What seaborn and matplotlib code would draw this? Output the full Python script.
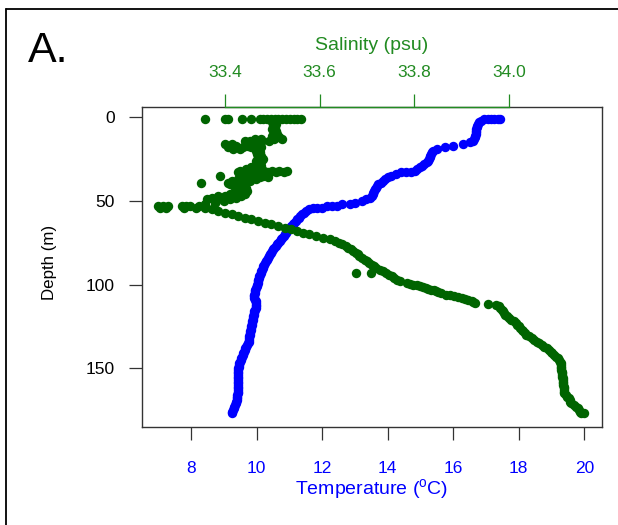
import numpy as np
import pandas as pd
import matplotlib
matplotlib.use("Agg")
import matplotlib.pyplot as plt
import seaborn as sns
from matplotlib.lines import Line2D

# ---------------- data ----------------
# Temperature profile, one reading per metre from 1 m to 177 m
temp_c = [
    16.95, 16.85, 16.78, 16.74, 16.72, 16.71, 16.70, 16.70, 16.69, 16.68,
    16.67, 16.66, 16.64, 16.60, 16.50, 16.30, 16.00, 15.75, 15.50, 15.38,
    15.35, 15.33, 15.30, 15.28, 15.26, 15.24, 15.20, 15.12, 15.05, 14.97,
    14.90, 14.82, 14.70, 14.25, 14.10, 14.00, 13.92, 13.85, 13.78, 13.70,
    13.66, 13.63, 13.60, 13.58, 13.56, 13.54, 13.52, 13.45, 13.35, 13.20,
    13.00, 12.85, 12.45, 12.00, 11.60, 11.50, 11.44, 11.38, 11.33, 11.28,
    11.24, 11.20, 11.15, 11.10, 11.06, 11.02, 10.98, 10.94, 10.90, 10.86,
    10.82, 10.78, 10.74, 10.70, 10.66, 10.62, 10.58, 10.54, 10.50, 10.47,
    10.44, 10.41, 10.38, 10.35, 10.32, 10.29, 10.26, 10.23, 10.20, 10.18,
    10.16, 10.14, 10.12, 10.10, 10.08, 10.06, 10.05, 10.04, 10.03, 10.02,
    10.00, 9.98, 9.96, 9.95, 9.94, 9.93, 9.91, 9.92, 9.95, 9.97,
    9.99, 9.99, 9.98, 9.97, 9.95, 9.93, 9.92, 9.91, 9.90, 9.89,
    9.88, 9.87, 9.86, 9.85, 9.84, 9.83, 9.82, 9.81, 9.80, 9.79,
    9.78, 9.77, 9.76, 9.75, 9.74, 9.71, 9.68, 9.65, 9.63, 9.61,
    9.59, 9.57, 9.55, 9.53, 9.51, 9.49, 9.47, 9.46, 9.45, 9.44,
    9.43, 9.43, 9.43, 9.42, 9.42, 9.42, 9.42, 9.42, 9.42, 9.42,
    9.43, 9.43, 9.43, 9.42, 9.42, 9.41, 9.41, 9.40, 9.40, 9.38,
    9.36, 9.34, 9.32, 9.30, 9.28, 9.26, 9.25,
]
temp_depth = list(range(1, 1 + len(temp_c)))
# extra temperature readings where the profile runs horizontally
temp_extra_depth = [1, 1, 1, 1, 1, 33, 33, 52, 53, 53, 54, 54]
temp_extra_c = [17.05, 17.15, 17.25, 17.35, 17.42, 14.55, 14.40,
                12.60, 12.30, 12.15, 11.85, 11.72]

# Salinity: scattered upper-layer readings (depth m, psu)
sal_upper_depth = (
    [1] * 17
    + [2, 3, 4, 5, 6, 7, 8, 9, 10, 11, 12, 12]
    + [13, 13, 13, 13, 14, 14, 14, 15, 15, 16, 16, 16, 17, 17, 17]
    + [18, 18, 18, 18, 19, 19, 19, 20, 21, 22, 23, 24, 25, 26, 27, 28, 29]
    + [30, 30, 31, 31] + [32] * 7 + [33] * 7
    + [34] * 4 + [35] * 4 + [36] * 4 + [37] * 3 + [38] * 3 + [39] * 3
    + [40, 40, 41, 41, 42, 42, 43, 43, 44, 44, 45, 45, 46, 46]
    + [47, 47, 47, 48, 48, 48, 49, 49, 49, 50, 50, 51, 52]
    + [53] * 7 + [54] * 5
)
sal_upper_psu = (
    [33.357, 33.399, 33.406, 33.435, 33.456, 33.473, 33.481, 33.489, 33.497,
     33.505, 33.513, 33.521, 33.529, 33.537, 33.545, 33.553, 33.561]
    + [33.505, 33.499, 33.507, 33.501, 33.505, 33.499, 33.507, 33.503, 33.509,
       33.499, 33.507, 33.515]
    + [33.503, 33.520, 33.477, 33.463, 33.494, 33.452, 33.442, 33.477, 33.469,
       33.473, 33.414, 33.401, 33.467, 33.448, 33.423]
    + [33.477, 33.439, 33.406, 33.456, 33.469, 33.416, 33.431, 33.465, 33.473,
       33.467, 33.477, 33.469, 33.480, 33.465, 33.476, 33.467, 33.477]
    + [33.471, 33.456, 33.465, 33.444]
    + [33.431, 33.448, 33.465, 33.482, 33.499, 33.515, 33.532]
    + [33.427, 33.442, 33.456, 33.473, 33.490, 33.507, 33.524]
    + [33.431, 33.452, 33.469, 33.486]
    + [33.442, 33.463, 33.480, 33.389]
    + [33.431, 33.452, 33.473, 33.490]
    + [33.427, 33.446, 33.465]
    + [33.414, 33.435, 33.452]
    + [33.349, 33.406, 33.427]
    + [33.410, 33.431, 33.420, 33.439, 33.431, 33.444, 33.439, 33.423, 33.431,
       33.446, 33.439, 33.427, 33.442, 33.410]
    + [33.433, 33.401, 33.385, 33.423, 33.393, 33.372, 33.410, 33.376, 33.363,
       33.397, 33.380, 33.378, 33.357]
    + [33.258, 33.269, 33.279, 33.309, 33.317, 33.326, 33.346]
    + [33.262, 33.275, 33.313, 33.338, 33.357]
)
# Salinity: main profile below the mixed layer, one reading per metre 55-177 m
sal_deep_psu = [
    33.372, 33.386, 33.400, 33.414, 33.428, 33.442, 33.456, 33.470, 33.484, 33.498,
    33.512, 33.527, 33.540, 33.552, 33.565, 33.577, 33.592, 33.607, 33.622, 33.632,
    33.640, 33.648, 33.655, 33.660, 33.666, 33.671, 33.676, 33.680, 33.684, 33.690,
    33.695, 33.700, 33.704, 33.710, 33.715, 33.720, 33.727, 33.733, 33.740, 33.746,
    33.752, 33.758, 33.764, 33.770, 33.784, 33.798, 33.812, 33.825, 33.836, 33.846,
    33.856, 33.867, 33.884, 33.900, 33.914, 33.922, 33.928, 33.972, 33.978, 33.982,
    33.985, 33.988, 33.990, 33.992, 33.995, 34.000, 34.005, 34.010, 34.015, 34.018,
    34.021, 34.024, 34.027, 34.030, 34.033, 34.036, 34.042, 34.048, 34.054, 34.060,
    34.064, 34.070, 34.075, 34.080, 34.085, 34.089, 34.092, 34.096, 34.100, 34.103,
    34.106, 34.108, 34.109, 34.110, 34.110, 34.111, 34.111, 34.112, 34.112, 34.113,
    34.113, 34.114, 34.114, 34.115, 34.115, 34.115, 34.116, 34.116, 34.117, 34.117,
    34.117, 34.120, 34.123, 34.126, 34.128, 34.130, 34.132, 34.137, 34.141, 34.145,
    34.148, 34.150, 34.152,
]
sal_deep_depth = list(range(55, 55 + len(sal_deep_psu)))
# isolated / intermediate salinity readings
sal_extra_depth = [93, 93, 99.5, 100.5, 101.5, 102.5, 103.5, 104.5, 106.5, 107.5,
                   108.5, 110.5, 111.5, 177]
sal_extra_psu = [33.677, 33.709, 33.791, 33.805, 33.818, 33.830, 33.841, 33.851,
                 33.875, 33.892, 33.907, 33.925, 33.955, 34.159]

temp_ticks = [8, 10, 12, 14, 16, 18, 20]
sal_ticks = [33.4, 33.6, 33.8, 34.0]
sal_tick_labels = ["33.4", "33.6", "33.8", "34.0"]
depth_ticks = [0, 50, 100, 150]

# ---------------- tables ----------------
temp_df = pd.DataFrame({
    "depth": temp_depth + temp_extra_depth,
    "temp": temp_c + temp_extra_c,
})
sal_df = pd.DataFrame({
    "depth": sal_upper_depth + sal_deep_depth + sal_extra_depth,
    "sal": sal_upper_psu + sal_deep_psu + sal_extra_psu,
})

# ---------------- style ----------------
sns.set_style("white")
plt.rcParams["font.family"] = ["Liberation Sans", "DejaVu Sans"]
plt.rcParams["mathtext.fontset"] = "custom"
plt.rcParams["mathtext.rm"] = "Liberation Sans"

BLUE = "#0000FF"
DKGREEN = "#006400"
TXTGREEN = "#228B22"
FRAME = "#333333"
MS = 46

W, H = 618, 525
fig = plt.figure(figsize=(W / 100, H / 100), dpi=100)
fig.patch.set_facecolor("white")
ax = fig.add_axes([141.7 / W, 1 - 426.7 / H, 460 / W, 320 / H])

sns.scatterplot(data=temp_df, x="temp", y="depth", ax=ax, color=BLUE,
                s=MS, linewidth=0, legend=False)
ax2 = ax.twiny()
sns.scatterplot(data=sal_df, x="sal", y="depth", ax=ax2, color=DKGREEN,
                s=MS, linewidth=0, legend=False)

ax.set_xlim(6.49, 20.53)
ax.set_ylim(184.9, -6.3)
ax2.set_xlim(33.224, 34.196)

ax.set_xticks(temp_ticks)
ax.set_xticklabels([str(t) for t in temp_ticks])
ax.set_yticks(depth_ticks)
ax.set_yticklabels([str(d) for d in depth_ticks])
ax2.set_xticks(sal_ticks)
ax2.set_xticklabels(sal_tick_labels)

for sp in ax.spines.values():
    sp.set_visible(True)
    sp.set_color(FRAME)
    sp.set_linewidth(1.0)
for name, sp in ax2.spines.items():
    sp.set_visible(name == "top")
ax2.spines["top"].set_bounds(33.4, 34.0)
ax2.spines["top"].set_color(TXTGREEN)
ax2.spines["top"].set_linewidth(1.0)

ax.tick_params(axis="x", bottom=True, top=False, direction="out", length=9.4,
               width=0.9, color=FRAME, labelcolor=BLUE, labelsize=12.5, pad=15)
ax.tick_params(axis="y", left=True, right=False, direction="out", length=9.4,
               width=0.9, color=FRAME, labelcolor="black", labelsize=12.5, pad=9.9)
ax2.tick_params(axis="x", top=True, bottom=False, labeltop=True, labelbottom=False,
                direction="out", length=9.4, width=0.9, color=TXTGREEN,
                labelcolor=TXTGREEN, labelsize=12.5, pad=9.8)
ax.grid(False)
ax2.grid(False)

ax.set_xlabel("Temperature ($^{\\mathrm{o}}$C)", color=BLUE, fontsize=14)
ax.xaxis.set_label_coords(0.5, -0.198)
ax.xaxis.label.set_va("center")
ax.set_ylabel("Depth (m)", color="black", fontsize=12.2)
ax.yaxis.set_label_coords(-0.2013, 0.513)
ax.yaxis.label.set_va("center")
ax2.set_ylabel("")
ax2.set_xlabel("Salinity (psu)", color=TXTGREEN, fontsize=14)
ax2.xaxis.set_label_position("top")
ax2.xaxis.set_label_coords(0.5, 1.190)
ax2.xaxis.label.set_va("center")

fig.text(28 / W, 1 - 62 / H, "A.", fontsize=31, ha="left", va="baseline",
         color="black")

# panel frame (left and top edges visible in the crop)
fig.add_artist(Line2D([6 / W, 6 / W], [0, 1 - 8.7 / H], transform=fig.transFigure,
                      color="black", lw=1.3))
fig.add_artist(Line2D([6 / W, 1], [1 - 8.7 / H, 1 - 8.7 / H], transform=fig.transFigure,
                      color="black", lw=1.3))

fig.savefig("out.png", dpi=100)
